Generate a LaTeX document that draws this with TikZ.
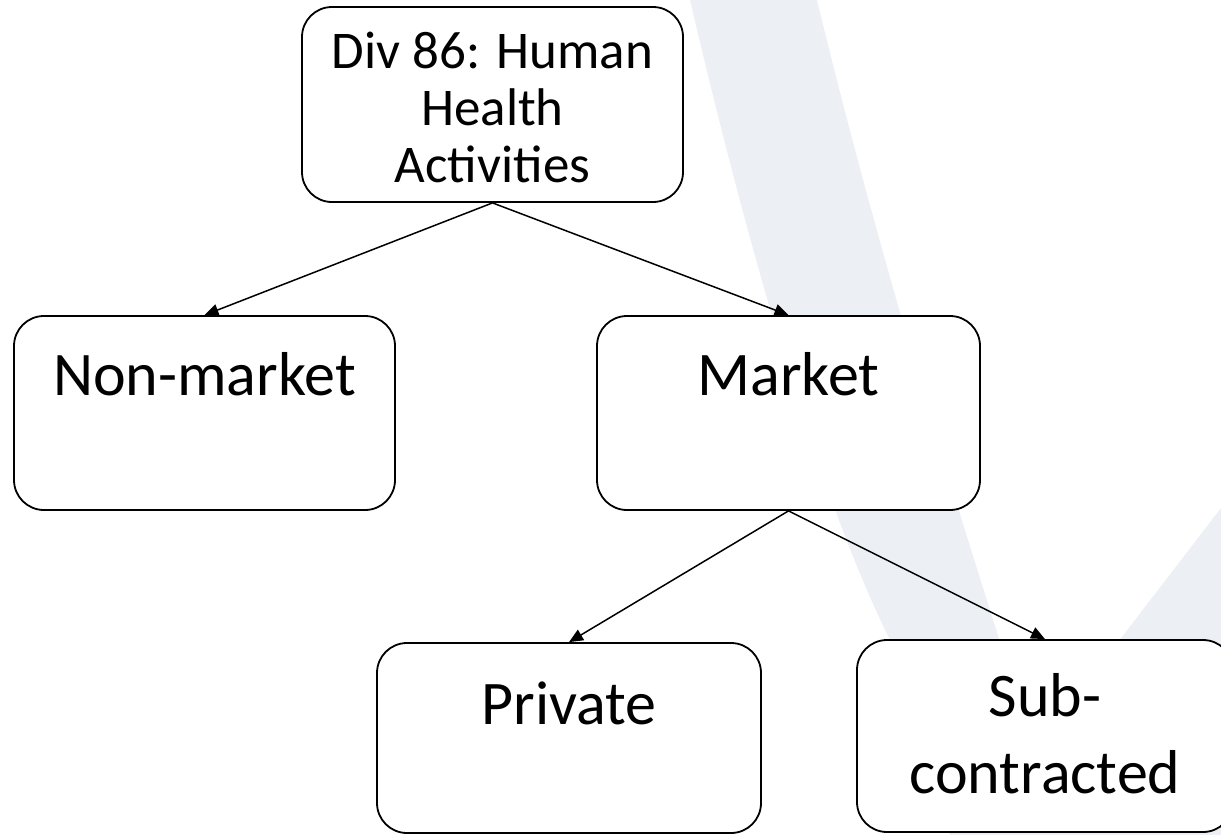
\documentclass[tikz,border=0pt]{standalone}
\usepackage{fontspec}
\setmainfont{Carlito}
\usetikzlibrary{arrows.meta}

\newcommand{\bigtxt}{\fontsize{62}{77}\selectfont}
\newcommand{\toptxt}{\fontsize{53}{57}\selectfont}
\definecolor{wmark}{RGB}{236,240,245}

\begin{document}
\begin{tikzpicture}[x=1pt,y=-1pt,
    box/.style={draw, line width=1.8pt, rounded corners=30pt, fill=white,
      inner sep=0pt, align=center, anchor=base, font=\bigtxt},
    arr/.style={-{Triangle[length=14pt,width=12pt]}, line width=1.5pt}]
  \clip (0,0) rectangle (1221,835);
  % faint logo in the background
  \fill[wmark] (690,0) .. controls (760,300) and (830,520) .. (890,640)
    .. controls (920,710) and (940,780) .. (950,835) -- (1221,835)
    -- (1221,508) -- (1035,750) .. controls (960,520) and (880,260) .. (817,0) -- cycle;

  \node[box, font=\toptxt, minimum width=381pt, text height=175pt, text depth=20pt]
    (TopAct) at (492.5,182) {Div 86: Human\\Health\\Activities};
  \node[box, minimum width=381pt, text height=79pt, text depth=115pt]
    (NonMkt) at (204.5,395) {Non-market};
  \node[box, minimum width=383pt, text height=79pt, text depth=115pt]
    (Mkt) at (788.5,395) {Market};
  \node[box, minimum width=384pt, text height=81pt, text depth=109pt]
    (Priv) at (569,724) {Private};
  \node[box, minimum width=376pt, text height=153pt, text depth=39pt]
    (SubCon) at (1045,793) {Sub-\\contracted};

  \draw[arr] (TopAct.south) -- (NonMkt.north);
  \draw[arr] (TopAct.south) -- (Mkt.north);
  \draw[arr] (Mkt.south) -- (Priv.north);
  \draw[arr] (Mkt.south) -- (SubCon.north);
\end{tikzpicture}
\end{document}
